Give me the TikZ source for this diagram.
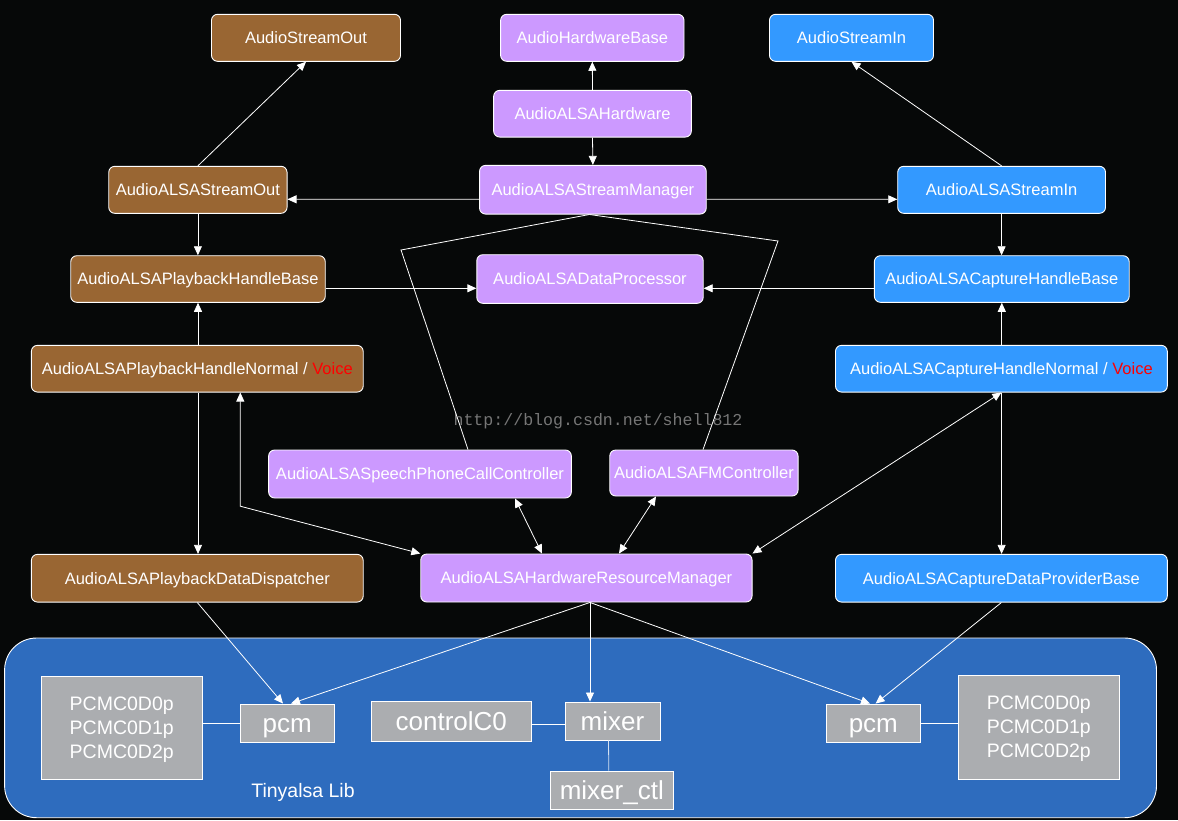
\documentclass[tikz,border=0pt]{standalone}
\usepackage{fontspec}
\setmainfont{Liberation Sans}
\newfontfamily\wmfont{Liberation Mono}
\usetikzlibrary{arrows.meta}
\definecolor{bgc}{RGB}{6,8,8}
\definecolor{brownc}{RGB}{153,102,51}
\definecolor{purplec}{RGB}{204,153,255}
\definecolor{bluec}{RGB}{51,153,255}
\definecolor{libc}{RGB}{46,108,190}
\definecolor{grayc}{RGB}{171,173,176}
\definecolor{voicec}{RGB}{255,0,0}
\definecolor{wmc}{RGB}{118,118,118}
\tikzset{
  box/.style={draw=white, line width=0.9pt, rounded corners=6pt, inner sep=0pt,
    text=white, font=\fontsize{16.5}{19}\selectfont, text height=11.8pt, text depth=0pt},
  bbox/.style={box, fill=brownc},
  pbox/.style={box, fill=purplec},
  cbox/.style={box, fill=bluec},
  gbox/.style={draw=white, line width=0.9pt, fill=grayc, inner sep=0pt, text=white,
    font=\fontsize{26}{30}\selectfont, text height=18.6pt, text depth=0pt},
  lbox/.style={draw=white, line width=0.9pt, fill=grayc, inner sep=0pt, text=white,
    align=center, font=\fontsize{19.5}{24}\selectfont},
  conn/.style={draw=white, line width=0.8pt, -{Triangle[length=9pt,width=8pt]}},
  biconn/.style={draw=white, line width=0.8pt, {Triangle[length=9pt,width=8pt]}-{Triangle[length=9pt,width=8pt]}},
  plain/.style={draw=white, line width=0.8pt},
}
\begin{document}
\begin{tikzpicture}[x=1pt,y=-1pt]
\fill[bgc] (0,0) rectangle (1178,820);
\useasboundingbox (0,0) rectangle (1178,820);
% Tinyalsa container
\draw[white, line width=0.9pt, fill=libc, rounded corners=32pt] (4.6,638) rectangle (1156.5,817.7);
\node[text=white, font=\fontsize{19.5}{22}\selectfont, text height=14pt, text depth=0pt, inner sep=0pt] (tlib) at (303,790) {Tinyalsa Lib};
% top row
\node[bbox, minimum width=189pt, minimum height=47pt] (aso) at (306,37.8) {AudioStreamOut};
\node[pbox, minimum width=183.4pt, minimum height=47pt] (ahb) at (592.3,37.8) {AudioHardwareBase};
\node[cbox, minimum width=164pt, minimum height=47pt] (asi) at (851.5,37.8) {AudioStreamIn};
\node[pbox, minimum width=197.7pt, minimum height=46.7pt] (hw) at (592.5,113.7) {AudioALSAHardware};
\node[bbox, minimum width=178.3pt, minimum height=47pt] (so) at (197.9,189.8) {AudioALSAStreamOut};
\node[pbox, minimum width=226.7pt, minimum height=48.7pt] (sm) at (592.9,189.7) {AudioALSAStreamManager};
\node[cbox, minimum width=207.8pt, minimum height=47pt] (si) at (1001.6,189.8) {AudioALSAStreamIn};
\node[bbox, minimum width=254.5pt, minimum height=46.6pt] (phb) at (198,279) {AudioALSAPlaybackHandleBase};
\node[pbox, minimum width=226.4pt, minimum height=48.6pt] (dp) at (590,279) {AudioALSADataProcessor};
\node[cbox, minimum width=254.8pt, minimum height=46.6pt] (chb) at (1001.8,279) {AudioALSACaptureHandleBase};
\node[bbox, minimum width=331.8pt, minimum height=46.7pt] (pn) at (197.3,368.7) {AudioALSAPlaybackHandleNormal / \textcolor{voicec}{Voice}};
\node[cbox, minimum width=331.8pt, minimum height=46.7pt] (cn) at (1001.4,368.7) {AudioALSACaptureHandleNormal / \textcolor{voicec}{Voice}};
\node[pbox, minimum width=302.7pt, minimum height=48pt] (spc) at (420,474) {AudioALSASpeechPhoneCallController};
\node[pbox, minimum width=188.3pt, minimum height=46pt] (fm) at (703.9,473) {AudioALSAFMController};
\node[bbox, minimum width=331.8pt, minimum height=47.7pt] (pdd) at (197.3,578.2) {AudioALSAPlaybackDataDispatcher};
\node[pbox, minimum width=331.3pt, minimum height=48pt] (hrm) at (586.4,578) {AudioALSAHardwareResourceManager};
\node[cbox, minimum width=331.8pt, minimum height=47.7pt] (cdp) at (1001.4,578.2) {AudioALSACaptureDataProviderBase};
% gray boxes
\node[lbox, minimum width=161.4pt, minimum height=103pt, text height=61pt, text depth=0pt] (lpl) at (121.7,727.5) {PCMC0D0p\\PCMC0D1p\\PCMC0D2p};
\node[gbox, minimum width=94.5pt, minimum height=38pt] (lpcm) at (287.3,723) {pcm};
\node[gbox, minimum width=160.6pt, minimum height=40pt] (ctl) at (451.3,721) {controlC0};
\node[gbox, minimum width=95pt, minimum height=38pt] (mix) at (612.5,721) {mixer};
\node[gbox, minimum width=123.7pt, minimum height=38pt] (mctl) at (611.8,790) {mixer\_ctl};
\node[gbox, minimum width=94.6pt, minimum height=38pt] (rpcm) at (873.3,723) {pcm};
\node[lbox, minimum width=161.7pt, minimum height=104pt, text height=61pt, text depth=0pt] (rpl) at (1038.8,727) {PCMC0D0p\\PCMC0D1p\\PCMC0D2p};
% watermark
\node[text=wmc, font=\wmfont\fontsize{16.6}{18}\selectfont, inner sep=0pt] (wm) at (598,421) {http://blog.csdn.net/shell812};
% connectors
\draw[conn] (so.north) -- (aso.south);
\draw[conn] (hw.north) -- (ahb.south);
\draw[conn] (hw.south) -- (sm.north);
\draw[conn] ([yshift=-9.5pt]sm.west) -- ([yshift=-9.5pt]so.east);
\draw[conn] ([yshift=-9.5pt]sm.east) -- ([yshift=-9.5pt]si.west);
\draw[conn] (si.north) -- (asi.south);
\draw[conn] (so.south) -- (so.south |- phb.north);
\draw[conn] (si.south) -- (si.south |- chb.north);
\draw[conn] ([yshift=-9.3pt]phb.east) -- ([yshift=-9.3pt]dp.west);
\draw[conn] ([yshift=-9.3pt]chb.west) -- ([yshift=-9.3pt]dp.east);
\draw[conn] (phb.south |- pn.north) -- (phb.south);
\draw[conn] (chb.south |- cn.north) -- (chb.south);
\draw[conn] (phb.south |- pn.south) -- (phb.south |- pdd.north);
\draw[conn] (si.south |- cn.south) -- (si.south |- cdp.north);
\draw[biconn] ([xshift=43pt]pn.south) -- ++(0,113.7) -- (hrm.north west);
\draw[biconn] ([xshift=95pt]spc.south) -- ([xshift=-44.4pt]hrm.north);
\draw[biconn] ([xshift=-47.9pt]fm.south) -- ([xshift=32.6pt]hrm.north);
\draw[biconn] (cn.south) -- (hrm.north east);
\coordinate (smb) at ([xshift=-3.5pt]sm.south);
\coordinate (bendL) at (401,250);
\coordinate (bendR) at (778,241);
\draw[plain] (smb) -- (bendL) -- ([xshift=48pt]spc.north);
\draw[plain] (smb) -- (bendR) -- ([xshift=-0.9pt]fm.north);
\coordinate (hb) at ([xshift=3.6pt]hrm.south);
\draw[conn] (pdd.south) -- ([xshift=-4.3pt]lpcm.north);
\draw[conn] (hb) -- ([xshift=3.7pt]lpcm.north);
\draw[conn] (hb) -- ([xshift=-22.5pt]mix.north);
\draw[conn] (hb) -- ([xshift=-3.3pt]rpcm.north);
\draw[conn] (cdp.south) -- ([xshift=2.3pt]rpcm.north);
\draw[plain] (lpl.east |- lpcm.west) -- (lpcm.west);
\draw[plain] ([yshift=-3pt]ctl.east) -- ([yshift=-3pt]mix.west);
\draw[plain, draw=white!80!libc] ([xshift=-4pt]mix.south) -- ([xshift=-3pt]mctl.north);
\draw[plain] (rpcm.east) -- (rpl.west |- rpcm.east);
\end{tikzpicture}
\end{document}
